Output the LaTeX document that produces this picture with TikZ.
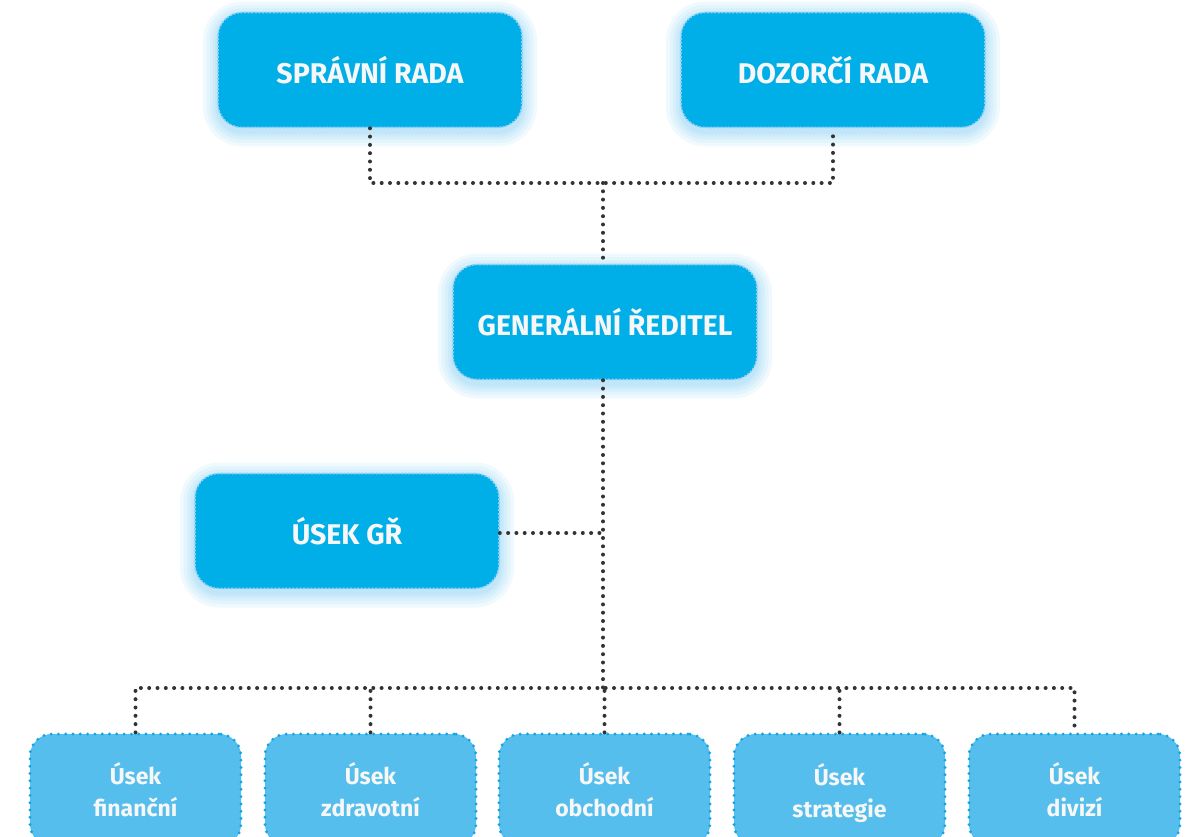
\documentclass[tikz,border=0pt]{standalone}
\usepackage{fontspec}
\setmainfont{Fira Sans}
\definecolor{topfill}{HTML}{00AEE8}
\definecolor{topedge}{HTML}{8FD0F4}
\definecolor{botfill}{HTML}{55BEEC}
\definecolor{botedge}{HTML}{12A6E6}
\definecolor{glowc}{HTML}{5EC2F2}
\definecolor{conncol}{HTML}{333333}
\definecolor{txt}{HTML}{F7F7F7}
\newcommand{\nodepth}[1]{\raisebox{0pt}[\height][0pt]{#1}}
\tikzset{
  glowpart/.style={preaction={draw=glowc,solid,line width=#1,opacity=0.09,transform canvas={yshift=-4pt}}},
  topbox/.style={
    glowpart=30pt, glowpart=23pt, glowpart=16pt, glowpart=10pt, glowpart=5pt,
    fill=topfill, draw=topedge, line width=1.6pt, dash pattern=on 2pt off 1.6pt,
    rounded corners=24pt, minimum width=304pt, minimum height=115pt,
    text=txt, font=\fontsize{28.5}{32}\selectfont\bfseries, inner sep=0pt},
  botbox/.style={
    fill=botfill, draw=botedge, line width=3.2pt, dash pattern=on 0pt off 7.3pt, line cap=round,
    rounded corners=22pt, minimum width=211pt, minimum height=112pt,
    text=txt, font=\fontsize{23}{32}\selectfont\bfseries, align=center, inner sep=0pt},
  conn/.style={draw=conncol, line width=4pt, dash pattern=on 0pt off 8.3pt, line cap=round}
}
\begin{document}
\begin{tikzpicture}[x=1pt,y=-1pt]
\useasboundingbox[fill=white] (0,0) rectangle (1191,837);
\node[topbox] (sr) at (370,70) {SPRÁVNÍ RADA};
\node[topbox] (dr) at (833,70) {DOZORČÍ RADA};
\node[topbox] (gr) at (605,322) {GENERÁLNÍ ŘEDITEL};
\node[topbox] (ugr) at (347,531) {ÚSEK GŘ};
\node[botbox] (b1) at (135.5,790) {Úsek\\finanční};
\node[botbox] (b2) at (370.5,790) {Úsek\\zdravotní};
\node[botbox] (b3) at (604.5,790) {Úsek\\obchodní};
\node[botbox] (b4) at (839.5,790) {Úsek\\\nodepth{strategie}};
\node[botbox] (b5) at (1074.5,790) {Úsek\\divizí};
\coordinate (j1) at (603,183);
\coordinate (j2) at (603,688);
\coordinate (j3) at (603,533);
\draw[conn] (sr.south) |- (j1) -| (dr.south);
\draw[conn] (j1) -- (j1 |- gr.north);
\draw[conn] (j1 |- gr.south) -- (j2);
\draw[conn] (ugr.east |- j3) -- (j3);
\draw[conn] (b1.north) |- (j2) -| (b5.north);
\foreach \b in {b2,b3,b4} \draw[conn] (\b.north) -- (\b.north |- j2);
\end{tikzpicture}
\end{document}
